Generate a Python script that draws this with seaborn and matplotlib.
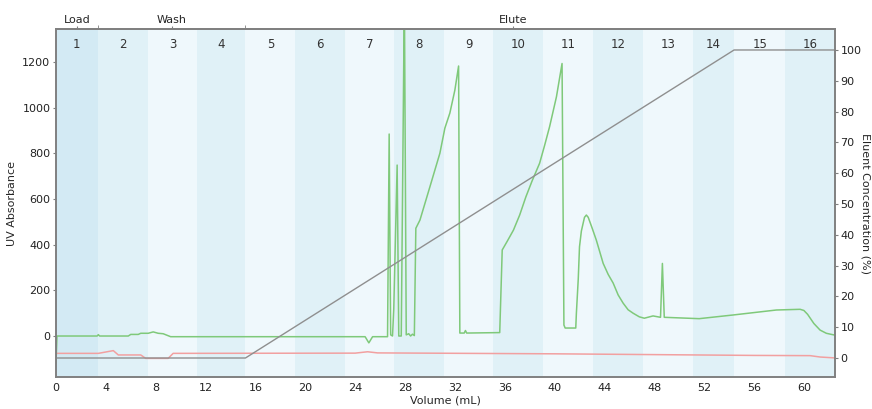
import matplotlib
matplotlib.use("Agg")
import matplotlib.pyplot as plt
import seaborn as sns

# fraction boundaries (mL) and labels
frac_edges = [0, 3.35, 7.35, 11.35, 15.2, 19.2, 23.15, 27.15, 31.1, 35.1,
              39.1, 43.1, 47.1, 51.1, 54.4, 58.5, 62.5]
frac_labels = [str(i) for i in range(1, 17)]

# phases on the top axis
phase_pos = [1.675, 9.3, 36.7]
phase_names = ["Load", "Wash", "Elute"]
phase_edges = [3.35, 15.2]

# UV trace (green)
uv_vol = [0, 0.08, 3.3, 3.4, 3.5, 5.8, 6.0, 6.6, 6.8, 7.4, 7.8, 8.2, 8.6, 9.2,
          24.8, 25.1, 25.4, 26.6, 26.73, 26.85, 27.0, 27.1, 27.37, 27.5, 27.7,
          27.95, 28.1, 28.3, 28.45, 28.6, 28.75, 28.87, 29.2, 30.0, 30.8, 31.2,
          31.6, 32.0, 32.3, 32.4, 32.75, 32.85, 32.95, 35.6, 35.8, 36.2, 36.7,
          37.2, 37.7, 38.2, 38.8, 39.2, 39.6, 40.15, 40.6, 40.75, 40.85, 41.7,
          41.75, 41.9, 42.0, 42.15, 42.4, 42.55, 42.7, 43.0, 43.35, 43.9, 44.3,
          44.7, 45.1, 45.5, 45.9, 46.3, 46.8, 47.2, 47.9, 48.5, 48.65, 48.8,
          51.6, 54.3, 57.8, 59.7, 60.0, 60.3, 60.8, 61.3, 61.8, 62.3, 62.5]
uv_abs = [-120, 0, 0, 6, 0, 0, 7, 7, 12, 12, 18, 12, 10, -3,
          -3, -30, -3, -3, 885, 5, 0, 120, 749, 0, 0,
          1500, 5, 10, 0, 8, 2, 472, 508, 654, 801, 911,
          977, 1077, 1183, 13, 13, 24, 13, 15, 377, 415, 464,
          530, 610, 680, 757, 835, 917, 1048, 1194, 48, 35, 35,
          100, 250, 391, 460, 520, 530, 520, 475, 420, 318, 270,
          232, 180, 144, 115, 100, 84, 78, 88, 82, 318, 82,
          76, 92, 114, 117, 112, 95, 55, 26, 12, 6, 4]

# second trace (red), in UV units
red_vol = [0, 3.4, 4.6, 5.0, 6.8, 7.2, 9.0, 9.4, 24.0, 25.0, 25.8, 40, 56, 60.5, 61.3, 62.5]
red_val = [-76, -76, -64, -83, -83, -98, -98, -76, -75, -69, -74, -78, -85, -86, -92, -96]

# gradient (grey), right axis
grad_vol = [0, 15.2, 54.4, 62.5]
grad_pct = [0, 0, 100, 100]

sns.set_style("white")
plt.rcParams["font.family"] = ["DejaVu Sans"]
plt.rcParams["font.size"] = 8

fig = plt.figure(figsize=(8.72, 4.09), dpi=100)
ax = fig.add_axes([0.0642, 0.078, 0.8934, 0.851])

# fraction bands
for i in range(len(frac_labels)):
    if i == 0:
        col = "#d3eaf4"
    elif i % 2 == 1:
        col = "#e0f1f7"
    else:
        col = "#eff8fc"
    ax.axvspan(frac_edges[i], frac_edges[i + 1], color=col, lw=0, zorder=0)
    ax.text((frac_edges[i] + frac_edges[i + 1]) / 2, 0.955, frac_labels[i],
            transform=ax.get_xaxis_transform(), ha="center", va="center",
            fontsize=8.5, color="#333333")

sns.lineplot(x=red_vol, y=red_val, ax=ax, color="#f2a0a0", lw=1.1, sort=False)
sns.lineplot(x=uv_vol, y=uv_abs, ax=ax, color="#7fc97a", lw=1.1, sort=False)

ax.set_xlim(0, 62.5)
ax.set_ylim(-180, 1345)
ax.set_xticks(range(0, 61, 4))
ax.set_yticks(range(0, 1201, 200))
ax.set_xlabel("Volume (mL)", labelpad=2)
ax.set_ylabel("UV Absorbance", labelpad=4)

ax2 = ax.twinx()
sns.lineplot(x=grad_vol, y=grad_pct, ax=ax2, color="#8f8f8f", lw=1.0)
ax2.set_ylim(-6.2, 106.8)
ax2.set_yticks(range(0, 101, 10))
ax2.set_ylabel("Eluent Concentration (%)", rotation=270, va="center", ha="center")
ax2.yaxis.set_label_coords(1.0385, 0.5)

top = ax.secondary_xaxis("top")
top.set_xticks(phase_pos)
top.set_xticklabels(phase_names)
top.set_xticks(phase_edges, minor=True)
top.tick_params(axis="x", which="major", length=2, pad=1, color="#808080")
top.tick_params(axis="x", which="minor", length=3, color="#808080")

for a in (ax, ax2, top):
    for s in a.spines.values():
        s.set_color("#808080")
        s.set_linewidth(1.2)
ax.tick_params(axis="both", length=2, pad=2, color="#808080", labelcolor="#222222")
ax2.tick_params(axis="y", length=2, pad=2, color="#808080", labelcolor="#222222")

fig.savefig("out.png", dpi=100)
